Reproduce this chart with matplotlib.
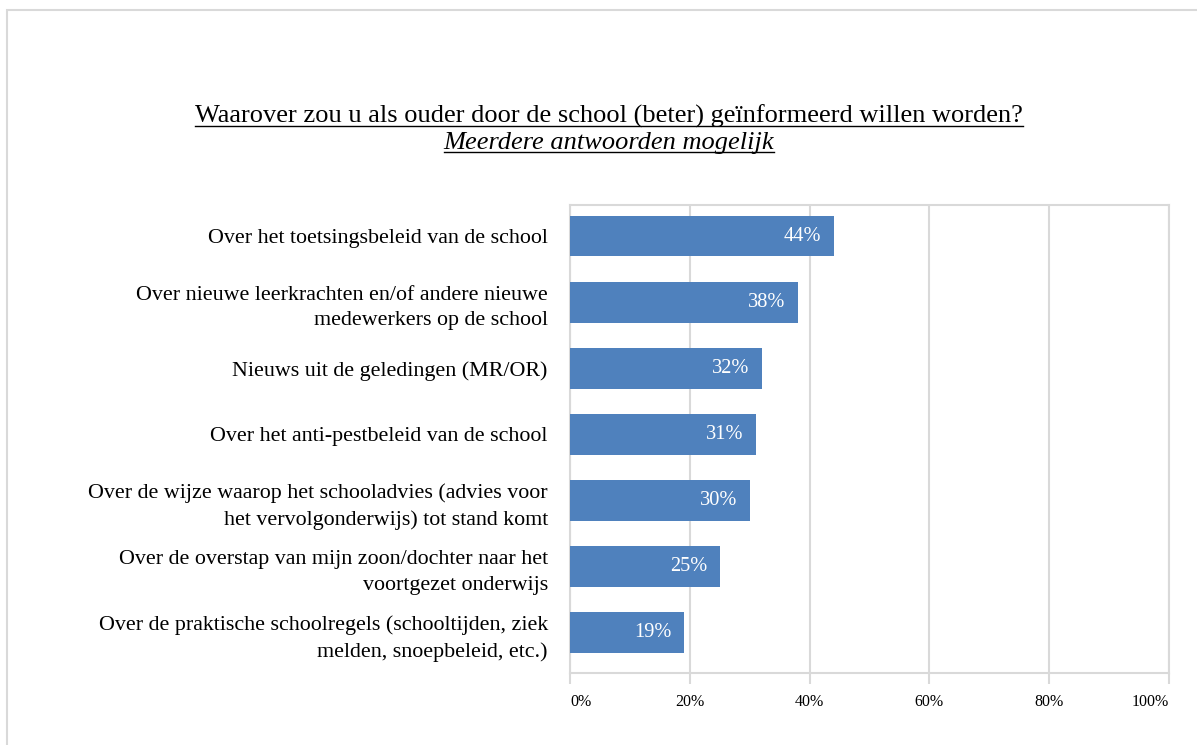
import matplotlib.pyplot as plt
import numpy as np
from matplotlib.lines import Line2D
from matplotlib.patches import Rectangle

categories = [
    'Over het toetsingsbeleid van de school',
    'Over nieuwe leerkrachten en/of andere nieuwe\nmedewerkers op de school',
    'Nieuws uit de geledingen (MR/OR)',
    'Over het anti-pestbeleid van de school',
    'Over de wijze waarop het schooladvies (advies voor\nhet vervolgonderwijs) tot stand komt',
    'Over de overstap van mijn zoon/dochter naar het\nvoortgezet onderwijs',
    'Over de praktische schoolregels (schooltijden, ziek\nmelden, snoepbeleid, etc.)',
]
values = [44, 38, 32, 31, 30, 25, 19]
xticks = [0, 20, 40, 60, 80, 100]
title = 'Waarover zou u als ouder door de school (beter) geïnformeerd willen worden?'
subtitle = 'Meerdere antwoorden mogelijk'

plt.rcParams['font.family'] = ['Liberation Serif', 'DejaVu Serif']
W, H = 1197, 745
grey = '#d9d9d9'
blue = '#4f81bd'

fig = plt.figure(figsize=(W / 100, H / 100), dpi=100)
ax = fig.add_axes([570 / W, 1 - 673 / H, (1169 - 570) / W, (673 - 205) / H])

y = np.arange(len(categories))
ax.barh(y, values, height=0.617, color=blue, zorder=3)
for yi, v in zip(y, values):
    ax.text(v - 2.0, yi, '%d%%' % v, ha='right', va='center',
            color='white', fontsize=14.7, zorder=4)

ax.set_xlim(0, 100)
ax.set_ylim(6.61, -0.47)
ax.set_yticks(y)
ax.set_yticklabels(categories, fontsize=15.8, linespacing=1.48)
ax.set_xticks(xticks)
ax.set_xticklabels(['%d%%' % t for t in xticks], fontsize=11.5)
labels = ax.get_xticklabels()
labels[0].set_ha('left')
labels[-1].set_ha('right')

ax.tick_params(axis='y', length=0, pad=16)
ax.tick_params(axis='x', length=8, width=1.5, color=grey, pad=7)
ax.grid(axis='x', color=grey, linewidth=1.5, zorder=0)
for s in ax.spines.values():
    s.set_color(grey)
    s.set_linewidth(1.5)

# outer frame of the chart
fig.patches.append(Rectangle((7 / W, -0.1), 1.2, 1 - 10 / H + 0.1,
                             transform=fig.transFigure, fill=False,
                             edgecolor=grey, linewidth=1.5))

t1 = fig.text(609 / W, 1 - 123 / H, title, ha='center', va='baseline', fontsize=19)
t2 = fig.text(609 / W, 1 - 149 / H, subtitle, ha='center', va='baseline',
              fontsize=19, style='italic')

# underline both title lines
fig.canvas.draw()
r = fig.canvas.get_renderer()
for t in (t1, t2):
    bb = t.get_window_extent(r)
    yb = t.get_position()[1] * H - 3
    fig.add_artist(Line2D([bb.x0 / W, bb.x1 / W], [yb / H, yb / H],
                          transform=fig.transFigure, color='black', linewidth=1))

fig.savefig('out.png', dpi=100)
